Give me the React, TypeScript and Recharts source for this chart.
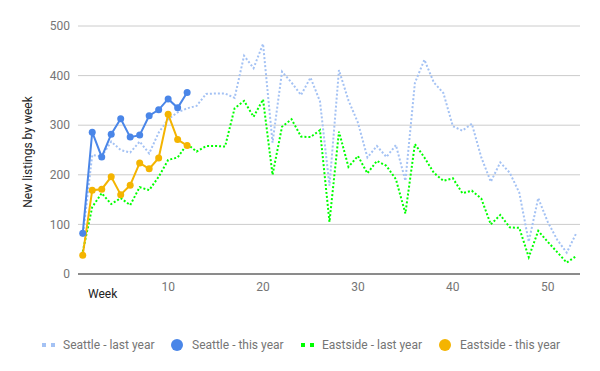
import React from 'react';
import { LineChart, Line, XAxis, YAxis, CartesianGrid } from 'recharts';

const weeks = [1,2,3,4,5,6,7,8,9,10,11,12,13,14,15,16,17,18,19,20,21,22,23,24,25,26,27,28,29,30,31,32,33,34,35,36,37,38,39,40,41,42,43,44,45,46,47,48,49,50,51,52,53];

const seattleLastYear = [75,240,237,267,250,245,267,243,285,312,326,334,339,363,364,364,355,440,415,464,265,408,386,361,396,348,178,411,350,305,235,258,236,260,188,385,432,386,365,298,289,303,235,186,225,204,164,65,153,105,69,43,82];
const seattleThisYear = [82,286,236,282,313,276,280,319,331,353,335,366];
const eastsideLastYear = [45,135,163,141,153,139,175,169,196,230,235,262,247,258,258,257,334,349,317,352,200,297,312,277,276,290,105,287,216,238,203,228,218,191,122,262,235,204,188,193,163,168,152,100,119,94,93,34,87,65,44,23,36];
const eastsideThisYear = [38,169,171,196,160,179,224,212,234,322,271,259];

const xTicks = [10,20,30,40,50];
const yTicks = [0,100,200,300,400,500];

const seriesNames = ['Seattle - last year','Seattle - this year','Eastside - last year','Eastside - this year'];
const colors = ['#a4c2f4','#4a86e8','#00ff00','#f4b400'];

const data = weeks.map((w, i) => ({
  week: w,
  seattleLast: seattleLastYear[i],
  seattleThis: i < seattleThisYear.length ? seattleThisYear[i] : null,
  eastsideLast: eastsideLastYear[i],
  eastsideThis: i < eastsideThisYear.length ? eastsideThisYear[i] : null,
}));

const font = 'Roboto, "Noto Sans", sans-serif';

const LegendItem = ({ left, idx }: { left: number; idx: number }) => {
  const dotted = idx === 0 || idx === 2;
  return (
    <div style={{ position: 'absolute', left, top: 337, height: 16, display: 'flex', alignItems: 'center' }}>
      {dotted ? (
        <svg width={14} height={16} style={{ marginRight: 7 }}>
          <rect x={0} y={6} width={4} height={4} fill={colors[idx]} />
          <rect x={9} y={6} width={4} height={4} fill={colors[idx]} />
        </svg>
      ) : (
        <svg width={12} height={16} style={{ marginRight: 9 }}>
          <circle cx={6} cy={8} r={6} fill={colors[idx]} />
        </svg>
      )}
      <span style={{ fontFamily: font, fontSize: 12, color: '#757575', whiteSpace: 'nowrap' }}>{seriesNames[idx]}</span>
    </div>
  );
};

export default function App() {
  return (
    <div style={{ position: 'absolute', left: 0, top: 0, width: 600, height: 371, background: '#fff', fontFamily: font }}>
      <LineChart width={600} height={371} data={data} margin={{ top: 26, right: 20, bottom: 77, left: 0 }}>
        <CartesianGrid horizontal={true} vertical={false} stroke="#cccccc" />
        <XAxis
          dataKey="week"
          type="number"
          domain={[0.5, 53.4]}
          ticks={xTicks}
          height={20}
          tickSize={0}
          tickMargin={8}
          axisLine={{ stroke: '#333333', strokeWidth: 1 }}
          tick={{ fill: '#757575', fontSize: 12, fontFamily: font }}
          allowDataOverflow
        />
        <YAxis
          type="number"
          domain={[0, 500]}
          ticks={yTicks}
          width={78}
          tickSize={0}
          tickMargin={8}
          axisLine={false}
          tick={{ fill: '#757575', fontSize: 12, fontFamily: font }}
        />
        <Line type="linear" dataKey="seattleLast" stroke={colors[0]} strokeWidth={2} strokeDasharray="2 2" dot={false} isAnimationActive={false} />
        <Line type="linear" dataKey="seattleThis" stroke={colors[1]} strokeWidth={2} dot={{ r: 3.5, fill: colors[1], stroke: colors[1], strokeWidth: 0 }} isAnimationActive={false} />
        <Line type="linear" dataKey="eastsideLast" stroke={colors[2]} strokeWidth={2} strokeDasharray="2 2" dot={false} isAnimationActive={false} />
        <Line type="linear" dataKey="eastsideThis" stroke={colors[3]} strokeWidth={2} dot={{ r: 3.5, fill: colors[3], stroke: colors[3], strokeWidth: 0 }} isAnimationActive={false} />
      </LineChart>
      <div style={{ position: 'absolute', left: 28, top: 152, transform: 'translate(-50%, -50%) rotate(-90deg)', fontFamily: font, fontSize: 12, color: '#222', whiteSpace: 'nowrap' }}>
        New listings by week
      </div>
      <div style={{ position: 'absolute', left: 88, top: 287, fontFamily: font, fontSize: 12, color: '#222' }}>Week</div>
      <LegendItem left={42} idx={0} />
      <LegendItem left={171} idx={1} />
      <LegendItem left={301} idx={2} />
      <LegendItem left={439} idx={3} />
    </div>
  );
}
